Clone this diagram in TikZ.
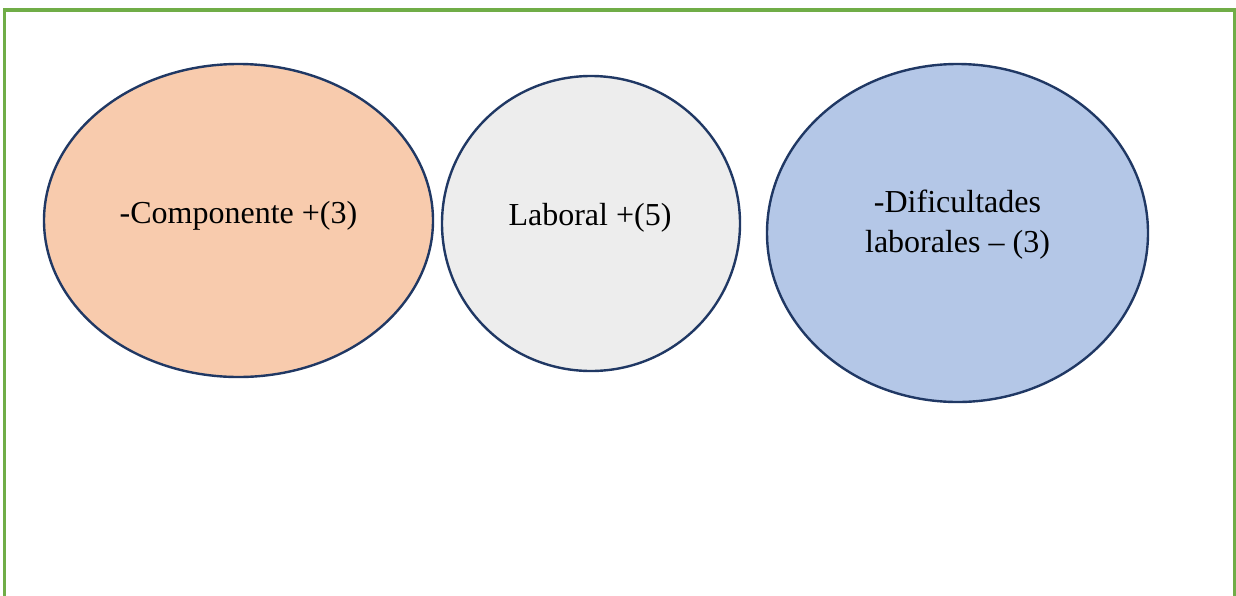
\documentclass[tikz,border=0pt]{standalone}
\usepackage{fontspec}
\setmainfont{Liberation Serif}
\usetikzlibrary{shapes.geometric}
\definecolor{framegreen}{HTML}{70AD47}
\definecolor{edgenavy}{HTML}{203864}
\definecolor{peach}{HTML}{F8CBAD}
\definecolor{lightgrey}{HTML}{EDEDED}
\definecolor{paleblue}{HTML}{B4C7E7}
\tikzset{
  bubble/.style={ellipse, draw=edgenavy, line width=2.4pt, inner sep=0pt},
  caption/.style={font=\fontsize{32}{40}\selectfont, align=center, inner sep=0pt, text=black}
}
\begin{document}
\begin{tikzpicture}[x=1pt, y=-1pt]
  \useasboundingbox (0,0) rectangle (1236,595);
  % open green frame (no bottom edge)
  \draw[framegreen, line width=3.4pt] (4.5,600) -- (4.5,10) -- (1234.5,10) -- (1234.5,600);
  % the three ellipses
  \node[bubble, fill=peach, minimum width=389pt, minimum height=313pt] (comp) at (238.5,220.5) {};
  \node[bubble, fill=lightgrey, minimum width=298pt, minimum height=295pt] (lab) at (591,223.5) {};
  \node[bubble, fill=paleblue, minimum width=381pt, minimum height=338pt] (dif) at (957.5,233) {};
  % their labels
  \node[caption] (compt) at (238.5,216) {-Componente +(3)};
  \node[caption] (labt) at (590,218) {Laboral +(5)};
  \node[caption] (dift) at (957.5,225) {-Dificultades\\laborales -- (3)};
\end{tikzpicture}
\end{document}
